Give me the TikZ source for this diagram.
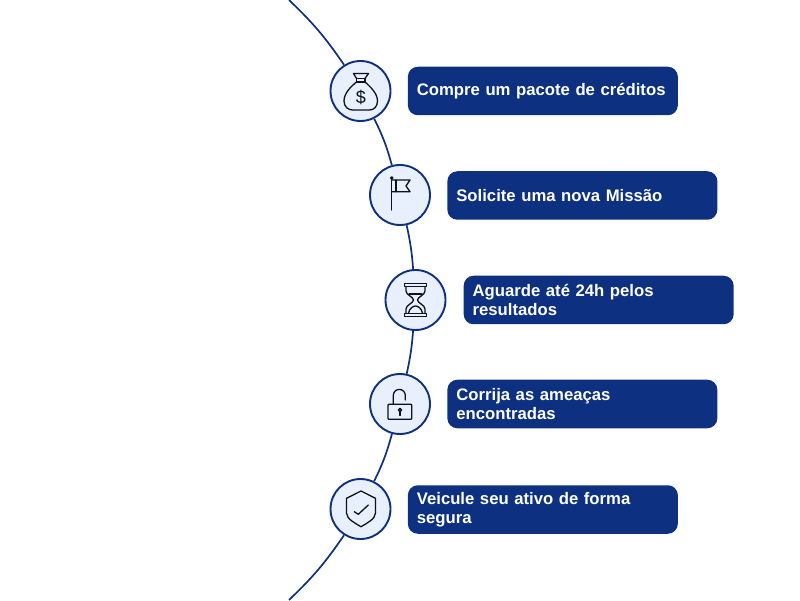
\documentclass[tikz,border=0pt]{standalone}
\usepackage{fontspec}
\setmainfont{Liberation Sans}
\usetikzlibrary{positioning}
\definecolor{navy}{HTML}{0D3180}
\definecolor{pale}{HTML}{E8EFFD}
\definecolor{ink}{HTML}{101216}

\begin{document}
\begin{tikzpicture}[x=1pt, y=1pt, node distance=16.2pt]
\tikzset{
    mycircle/.style={circle, draw=navy, fill=pale, line width=1.9pt, minimum size=60pt, inner sep=0pt},
    mybox/.style={rectangle, rounded corners=10pt, fill=navy, text=white, minimum height=48.5pt, text width=252pt, inner xsep=9pt, inner ysep=0pt, align=left, font=\fontsize{16.7}{19.2}\selectfont\bfseries},
    myarc/.style={draw=navy, line width=1.7pt},
    myicon/.style={draw=ink, line width=1.3pt, line join=round, line cap=round},
    moneyicon/.pic={
        \draw[myicon] (-4,9) .. controls (-9,5) and (-16.5,-2) .. (-16.5,-10) .. controls (-16.5,-16) and (-12,-19) .. (-8,-19) -- (9,-19) .. controls (13,-19) and (17,-16) .. (17,-10) .. controls (17,-2) and (9,5) .. (4.5,9);
        \draw[myicon] (-4,9) -- (4.5,9) -- (4.5,12.5) -- (-4,12.5) -- cycle;
        \draw[myicon] (-4,12.5) -- (-7,17.5) -- (8,17.5) -- (4.5,12.5);
        \node[text=ink, inner sep=0pt, font=\fontsize{18}{18}\selectfont] (dollar) at (0.5,-6.5) {\$};
    },
    flagicon/.pic={
        \draw[myicon] (-8.3,16) -- (-8.3,-15);
        \draw[myicon, fill=pale] (-8.3,17) circle (1.2);
        \draw[myicon] (-8.3,15) -- (10,15) -- (6,9) -- (10,3.3) -- (-8.3,3.3);
        \draw[myicon] (-4,15) -- (-4,3.3);
    },
    hourglassicon/.pic={
        \draw[myicon] (-11,16.7) rectangle (11,13.4);
        \draw[myicon] (-11,-13.4) rectangle (11,-16.7);
        \draw[myicon] (-9.5,13.4) -- (-9.5,9) .. controls (-9.5,5) and (-2,3) .. (-2,0) .. controls (-2,-3) and (-9.5,-5) .. (-9.5,-9) -- (-9.5,-13.4);
        \draw[myicon] (9.5,13.4) -- (9.5,9) .. controls (9.5,5) and (2,3) .. (2,0) .. controls (2,-3) and (9.5,-5) .. (9.5,-9) -- (9.5,-13.4);
        \draw[myicon] (-6.5,6) -- (6.5,6);
        \draw[myicon] (-7,-13) .. controls (-6,-8) and (-2,-6) .. (0,-6) .. controls (2,-6) and (6,-8) .. (7,-13);
    },
    padlockicon/.pic={
        \draw[myicon, rounded corners=0.8pt] (-12,-0.3) rectangle (11.7,-15.3);
        \draw[myicon] (-6.7,-0.3) -- (-6.7,8.6) arc[start angle=180, end angle=0, radius=6] -- (5.3,4);
        \draw[myicon] (0,-6) circle (1.6);
        \draw[myicon] (0,-7.6) -- (0,-11.5);
    },
    shieldicon/.pic={
        \draw[myicon] (0.5,18) -- (15,10.7) -- (15,-4) .. controls (15,-10) and (6,-14.5) .. (0.5,-17.7) .. controls (-5,-14.5) and (-14,-10) .. (-14,-4) -- (-14,10.7) -- cycle;
        \draw[myicon] (-6.2,-2.7) -- (-2.2,-5.3) -- (7.8,4);
    }
}
\useasboundingbox (0,0) rectangle (800,600);
\coordinate (top) at (289,600);
\coordinate (bottom) at (289,0);
\node[mycircle] (money) at (360.5,509) {};
\node[mycircle] (flag) at (400,405) {};
\node[mycircle] (hourglass) at (415.5,300) {};
\node[mycircle] (padlock) at (400,196) {};
\node[mycircle] (shield) at (360.5,91) {};

\node[mybox, right=of money] (moneytext) {Compre um pacote de créditos};
\node[mybox, right=of flag, yshift=-0.5pt] (flagtext) {Solicite uma nova Missão};
\node[mybox, right=17pt of hourglass] (hourglasstext) {Aguarde até 24h pelos\\resultados};
\node[mybox, right=of padlock] (padlocktext) {Corrija as ameaças\\encontradas};
\node[mybox, right=of shield, yshift=-0.5pt] (shieldtext) {Veicule seu ativo de forma\\segura};

\draw[myarc, bend left=6] (top) to (money);
\draw[myarc, bend left=5.5] (money) to (flag);
\draw[myarc, bend left=4] (flag) to (hourglass);
\draw[myarc, bend left=4] (hourglass) to (padlock);
\draw[myarc, bend left=5.5] (padlock) to (shield);
\draw[myarc, bend left=6] (shield) to (bottom);

\pic at (money) {moneyicon};
\pic at (flag) {flagicon};
\pic at (hourglass) {hourglassicon};
\pic at (padlock) {padlockicon};
\pic at (shield) {shieldicon};
\end{tikzpicture}
\end{document}
